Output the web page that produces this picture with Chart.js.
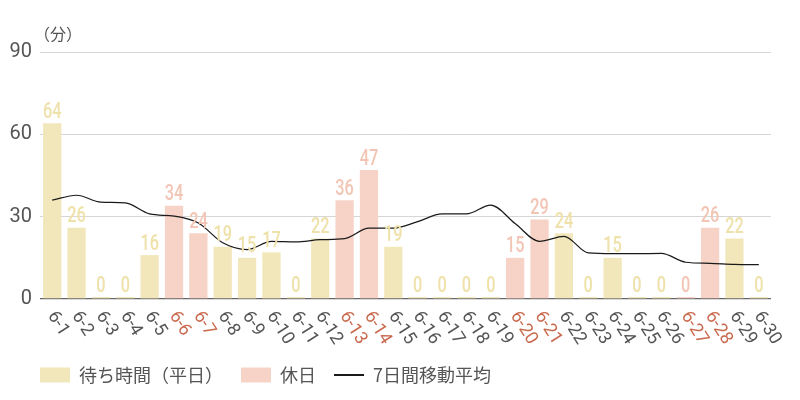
<!DOCTYPE html>
<html>
<head>
<meta charset="utf-8">
<script src="https://cdn.jsdelivr.net/npm/chart.js@4"></script>
<style>
  html, body { margin: 0; padding: 0; background: #fff; }
  #wrap { width: 800px; height: 400px; }
</style>
</head>
<body>
<div id="wrap"><canvas id="chart"></canvas></div>
<script>
var days = ["6-1", "6-2", "6-3", "6-4", "6-5", "6-6", "6-7", "6-8", "6-9", "6-10",
    "6-11", "6-12", "6-13", "6-14", "6-15", "6-16", "6-17", "6-18", "6-19", "6-20",
    "6-21", "6-22", "6-23", "6-24", "6-25", "6-26", "6-27", "6-28", "6-29", "6-30"];

// null = the other series holds that day
var weekday_wait = [64, 26, 0, 0, 16, null, null, 19, 15, 17,
    0, 22, null, null, 19, 0, 0, 0, 0, null,
    null, 24, 0, 15, 0, 0, null, null, 22, 0];
var holiday_wait = [null, null, null, null, null, 34, 24, null, null, null,
    null, null, 36, 47, null, null, null, null, null, 15,
    29, null, null, null, null, null, 0, 26, null, null];
var moving_avg = [36, 37.8, 35.3, 35, 31, 30.2, 27.7, 20.5, 18, 21,
    20.8, 21.6, 22, 25.8, 25.8, 28.2, 31, 31, 34.2, 27.5,
    21, 22.8, 16.8, 16.5, 16.5, 16.6, 13.4, 13, 12.6, 12.5];
var y_ticks = [0, 30, 60, 90];

var WEEKDAY_BAR = '#f2e7bb';
var WEEKDAY_TEXT = '#efe1aa';
var HOLIDAY_BAR = '#f6d3c6';
var HOLIDAY_TEXT = '#f2c5b5';
var GREY = '#555555';
var HOLIDAY_LABEL = '#c96a4e';

var jpFont = '"Noto Sans CJK JP", "Noto Sans", sans-serif';

function isHoliday(i) {
    return holiday_wait[i] !== null;
}

// value labels above the bars, drawn a bit condensed
var barLabels = {
    id: 'barLabels',
    afterDatasetsDraw: function (chart) {
        var ctx = chart.ctx;
        ctx.save();
        ctx.font = '500 22px Roboto';
        ctx.textAlign = 'center';
        ctx.textBaseline = 'bottom';
        [0, 1].forEach(function (di) {
            var meta = chart.getDatasetMeta(di);
            var vals = chart.data.datasets[di].data;
            ctx.fillStyle = di === 0 ? WEEKDAY_TEXT : HOLIDAY_TEXT;
            meta.data.forEach(function (el, i) {
                if (vals[i] === null) return;
                ctx.save();
                ctx.translate(el.x, el.y);
                ctx.scale(0.74, 1);
                ctx.fillText(String(vals[i]), 0, 0);
                ctx.restore();
            });
        });
        ctx.restore();
    }
};

// rotated day labels under the axis, holidays in red
var dayLabels = {
    id: 'dayLabels',
    afterLayout: function (chart) {
        // line the legend up with the plot's left edge
        chart.legend.left = chart.chartArea.left - 18;
    },
    afterDraw: function (chart) {
        var ctx = chart.ctx;
        var xs = chart.scales.x;
        var top = chart.chartArea.bottom;
        ctx.save();
        ctx.font = '18px Roboto';
        ctx.textAlign = 'left';
        ctx.textBaseline = 'middle';
        days.forEach(function (d, i) {
            var x = xs.getPixelForValue(i);
            ctx.save();
            ctx.translate(x - 1, top + 14);
            ctx.rotate(Math.PI * 0.32);
            ctx.fillStyle = isHoliday(i) ? HOLIDAY_LABEL : GREY;
            ctx.fillText(d, 0, 0);
            ctx.restore();
        });
        // unit label
        ctx.font = '16px ' + jpFont;
        ctx.fillStyle = GREY;
        ctx.textBaseline = 'middle';
        ctx.fillText('（分）', chart.chartArea.left - 6, chart.chartArea.top - 18);
        ctx.restore();
    }
};

var ctx = document.getElementById('chart').getContext('2d');
var myChart = new Chart(ctx, {
    type: 'bar',
    data: {
        labels: days,
        datasets: [{
            label: '待ち時間（平日）',
            data: weekday_wait,
            backgroundColor: WEEKDAY_BAR,
            barPercentage: 0.75,
            categoryPercentage: 1,
            minBarLength: 2,
            order: 2
        }, {
            label: '休日',
            data: holiday_wait,
            backgroundColor: HOLIDAY_BAR,
            barPercentage: 0.75,
            categoryPercentage: 1,
            minBarLength: 2,
            order: 2
        }, {
            type: 'line',
            label: '7日間移動平均',
            data: moving_avg,
            borderColor: '#1a1a1a',
            borderWidth: 1.2,
            pointRadius: 0,
            cubicInterpolationMode: 'monotone',
            order: 1
        }]
    },
    options: {
        responsive: true,
        maintainAspectRatio: false,
        animation: false,
        layout: {
            padding: { top: 52, right: 29, left: 0, bottom: 6 }
        },
        scales: {
            x: {
                stacked: true,
                grid: { display: false },
                border: { display: false },
                ticks: { display: false },
                afterFit: function (scale) { scale.height = 49; }
            },
            y: {
                stacked: false,
                min: 0,
                max: 90,
                afterBuildTicks: function (scale) {
                    scale.ticks = y_ticks.map(function (v) { return { value: v }; });
                },
                afterFit: function (scale) { scale.width = 40; },
                grid: {
                    drawTicks: false,
                    color: function (c) { return c.tick && c.tick.value === 0 ? '#666' : '#d6d6d6'; },
                    lineWidth: function (c) { return c.tick && c.tick.value === 0 ? 1.3 : 1; }
                },
                border: { display: false },
                ticks: {
                    padding: 8,
                    color: GREY,
                    font: { family: 'Roboto', size: 20 }
                }
            }
        },
        plugins: {
            tooltip: { enabled: false },
            legend: {
                position: 'bottom',
                align: 'start',
                labels: {
                    usePointStyle: true,
                    pointStyleWidth: 30,
                    boxHeight: 15,
                    padding: 18,
                    color: GREY,
                    font: { family: jpFont, size: 18 },
                    generateLabels: function (chart) {
                        var ds = chart.data.datasets;
                        return [
                            { text: ds[0].label, fillStyle: WEEKDAY_BAR, strokeStyle: WEEKDAY_BAR, lineWidth: 0, pointStyle: 'rect', datasetIndex: 0, fontColor: GREY },
                            { text: ds[1].label, fillStyle: HOLIDAY_BAR, strokeStyle: HOLIDAY_BAR, lineWidth: 0, pointStyle: 'rect', datasetIndex: 1, fontColor: GREY },
                            { text: ds[2].label, fillStyle: '#1a1a1a', strokeStyle: '#1a1a1a', lineWidth: 2, pointStyle: 'line', datasetIndex: 2, fontColor: GREY }
                        ];
                    }
                }
            }
        }
    },
    plugins: [barLabels, dayLabels]
});
</script>
</body>
</html>
